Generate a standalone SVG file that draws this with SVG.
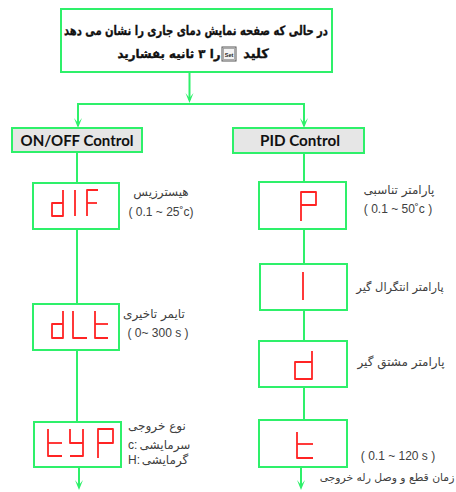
<svg xmlns="http://www.w3.org/2000/svg" width="456" height="492" viewBox="0 0 456 492">
<style>
.box{fill:#ffffff;stroke:#2ef06a;stroke-width:2}
.hdr{fill:#e6e6e6;stroke:#2ef06a;stroke-width:2}
.ln{fill:none;stroke:#2ef06a;stroke-width:2}
.seg{fill:none;stroke:#ff2424;stroke-width:1.8;stroke-linejoin:round}
.fa{font-family:"DejaVu Sans",sans-serif;font-size:12px;fill:#404040;direction:rtl}
.fab{font-family:"DejaVu Sans",sans-serif;font-size:13px;font-weight:bold;fill:#111;stroke:#111;stroke-width:0.35;direction:rtl}
.en{font-family:"Liberation Sans",sans-serif;font-size:12px;fill:#404040}
.ttl{font-family:Lato,"Liberation Sans",sans-serif;font-size:15px;font-weight:bold;fill:#111}
</style>
<defs>
<marker id="ah" markerUnits="userSpaceOnUse" markerWidth="12" markerHeight="10" refX="0" refY="0" orient="auto" overflow="visible">
<path d="M3,0 L-7,-4 L-2,0 L-7,4 Z" fill="#2ef06a"/>
</marker>
</defs>

<g id="connectors">
<line class="ln" x1="189.5" y1="72" x2="189.5" y2="100" marker-end="url(#ah)"/>
<polyline class="ln" points="78,126 78,104 304,104 304,126"/>
<line class="ln" x1="78" y1="104" x2="78" y2="125" marker-end="url(#ah)"/>
<line class="ln" x1="304" y1="104" x2="304" y2="125" marker-end="url(#ah)"/>
<line class="ln" x1="77" y1="152" x2="77" y2="183"/>
<line class="ln" x1="77" y1="229" x2="77" y2="304"/>
<line class="ln" x1="77" y1="350" x2="77" y2="422"/>
<line class="ln" x1="79" y1="467" x2="79" y2="487" marker-end="url(#ah)"/>
<line class="ln" x1="304" y1="153" x2="304" y2="182"/>
<line class="ln" x1="304" y1="229" x2="304" y2="264"/>
<line class="ln" x1="304" y1="310" x2="304" y2="341"/>
<line class="ln" x1="304" y1="387" x2="304" y2="420"/>
<line class="ln" x1="301" y1="467" x2="301" y2="487" marker-end="url(#ah)"/>
</g>

<g id="start">
<rect class="box" x="61" y="9" width="271" height="63"/>
<text class="fab" x="196" y="35" text-anchor="middle" textLength="264" lengthAdjust="spacingAndGlyphs">در حالی که صفحه نمایش دمای جاری را نشان می دهد</text>
<text class="fab" x="256" y="58" text-anchor="middle">کلید</text>
<rect x="222" y="47" width="14" height="14" fill="#f4f4f4" stroke="#555" stroke-width="1"/>
<rect x="223.5" y="48.5" width="11" height="11" fill="none" stroke="#999" stroke-width="0.8"/>
<text x="229" y="56.5" text-anchor="middle" font-family="Liberation Sans,sans-serif" font-size="5.5" font-weight="bold" fill="#222">Set</text>
<text class="fab" x="169" y="58" text-anchor="middle" style="font-size:11.8px">را ۳ ثانیه بفشارید</text>
</g>

<g id="onoff">
<rect class="hdr" x="12" y="128" width="130" height="24"/>
<text class="ttl" x="77" y="146" text-anchor="middle" textLength="113" lengthAdjust="spacingAndGlyphs">ON/OFF Control</text>
</g>

<g id="pid">
<rect class="hdr" x="233" y="128" width="131" height="25"/>
<text class="ttl" x="300" y="146" text-anchor="middle" textLength="80" lengthAdjust="spacingAndGlyphs">PID Control</text>
</g>

<g id="dif">
<title>dIF</title>
<rect class="box" x="33" y="183" width="86" height="46"/>
<polyline class="seg" points="63,190 63,216 52,216 52,203 63,203"/>
<polyline class="seg" points="75,190 75,216"/>
<polyline class="seg" points="98,190 87,190 87,216"/>
<polyline class="seg" points="87,203 97,203"/>
<text class="fa" x="161" y="196" text-anchor="middle">هیسترزیس</text>
<text class="en" x="161" y="216" text-anchor="middle">( 0.1 ~ 25˚c)</text>
</g>

<g id="dlt">
<title>dLt</title>
<rect class="box" x="33" y="304" width="86" height="46"/>
<polyline class="seg" points="63,311 63,338 52,338 52,324 63,324"/>
<polyline class="seg" points="73,311 73,338 87,338"/>
<polyline class="seg" points="95,311 95,338 108,338"/>
<polyline class="seg" points="95,324 108,324"/>
<text class="fa" x="154" y="318" text-anchor="middle">تایمر تاخیری</text>
<text class="en" x="158" y="337" text-anchor="middle">( 0~ 300 s )</text>
</g>

<g id="typ">
<title>tYP</title>
<rect class="box" x="34" y="422" width="87" height="45"/>
<polyline class="seg" points="48,429 48,456 62,456"/>
<polyline class="seg" points="48,443 62,443"/>
<polyline class="seg" points="70,429 70,443 83,443"/>
<polyline class="seg" points="83,429 83,456 70,456"/>
<polyline class="seg" points="98,458 98,429 113,429 113,443 98,443"/>
<text class="fa" x="157" y="430" text-anchor="middle">نوع خروجی</text>
<text class="en" x="128" y="449">c:</text>
<text class="fa" x="165" y="449" text-anchor="middle">سرمایشی</text>
<text class="en" x="128" y="464">H:</text>
<text class="fa" x="165" y="464" text-anchor="middle">گرمایشی</text>
</g>

<g id="p">
<title>P</title>
<rect class="box" x="259" y="182" width="87" height="47"/>
<polyline class="seg" points="301,221 301,192 316,192 316,205 301,205"/>
<text class="fa" x="399" y="194" text-anchor="middle">پارامتر تناسبی</text>
<text class="en" x="398" y="213" text-anchor="middle">( 0.1 ~ 50˚c )</text>
</g>

<g id="i">
<title>I</title>
<rect class="box" x="260" y="264" width="87" height="46"/>
<polyline class="seg" points="303,272 303,300"/>
<text class="fa" x="400" y="291" text-anchor="middle" style="font-size:11.4px">پارامتر انتگرال گیر</text>
</g>

<g id="d">
<title>d</title>
<rect class="box" x="259" y="341" width="88" height="46"/>
<polyline class="seg" points="312,351 312,379 295,379 295,362 312,362"/>
<text class="fa" x="401" y="366" text-anchor="middle">پارامتر مشتق گیر</text>
</g>

<g id="t">
<title>t</title>
<rect class="box" x="259" y="420" width="88" height="47"/>
<polyline class="seg" points="297,432 297,458 313,458"/>
<polyline class="seg" points="297,444 313,444"/>
<text class="en" x="398" y="460" text-anchor="middle">( 0.1 ~ 120 s )</text>
<text class="fa" x="387" y="481" text-anchor="middle" style="font-size:10.8px">زمان قطع و وصل رله خروجی</text>
</g>
</svg>
